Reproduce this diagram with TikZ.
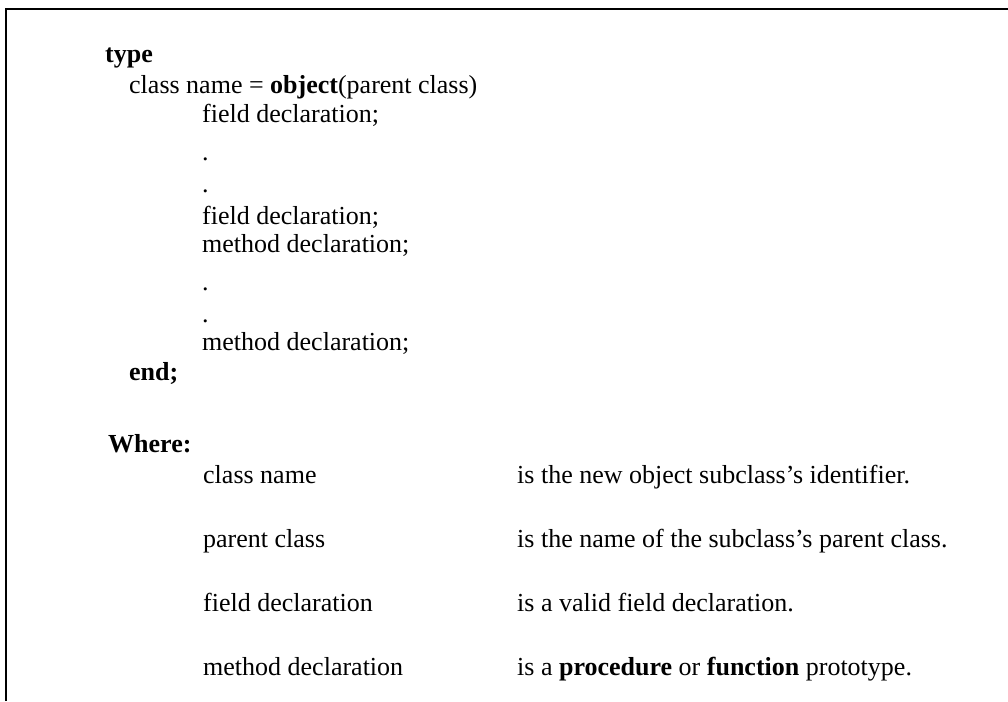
\documentclass[tikz,border=0pt]{standalone}
\usepackage{fontspec}
\setmainfont{Liberation Serif}
\usepackage{tikz}

\tikzset{code/.style={anchor=base west,inner sep=0pt,font=\fontsize{26}{30}\selectfont}}

\begin{document}
\begin{tikzpicture}[x=1pt,y=1pt]
\useasboundingbox (0,0) rectangle (1008,-701);
%枠
\draw[line width=2.5pt] (6,-701) -- (6,-9) -- (1008,-9);
%宣言
\node[code] (type) at (105,-63) {\textbf{type}};
\node[code] (cls) at (129,-93) {class name = \textbf{object}(parent class)};
\node[code] (fld1) at (202,-122) {field declaration;};
\node[code] (dot1) at (202,-160) {.};
\node[code] (dot2) at (202,-192) {.};
\node[code] (fld2) at (202,-224) {field declaration;};
\node[code] (mth1) at (202,-252) {method declaration;};
\node[code] (dot3) at (202,-290) {.};
\node[code] (dot4) at (202,-322) {.};
\node[code] (mth2) at (202,-350) {method declaration;};
\node[code] (end) at (129,-380) {\textbf{end;}};
%説明
\node[code] (where) at (108,-452) {\textbf{Where:}};
\node[code] (nclass) at (203,-483) {class name};
\node[code] (nparent) at (203,-547) {parent class};
\node[code] (nfield) at (203,-611) {field declaration};
\node[code] (nmethod) at (203,-675) {method declaration};
\node[code] (dclass) at (517,-483) {is the new object subclass's identifier.};
\node[code] (dparent) at (517,-547) {is the name of the subclass's parent class.};
\node[code] (dfield) at (517,-611) {is a valid field declaration.};
\node[code] (dmethod) at (517,-675) {is a \textbf{procedure} or \textbf{function} prototype.};
\end{tikzpicture}
\end{document}
